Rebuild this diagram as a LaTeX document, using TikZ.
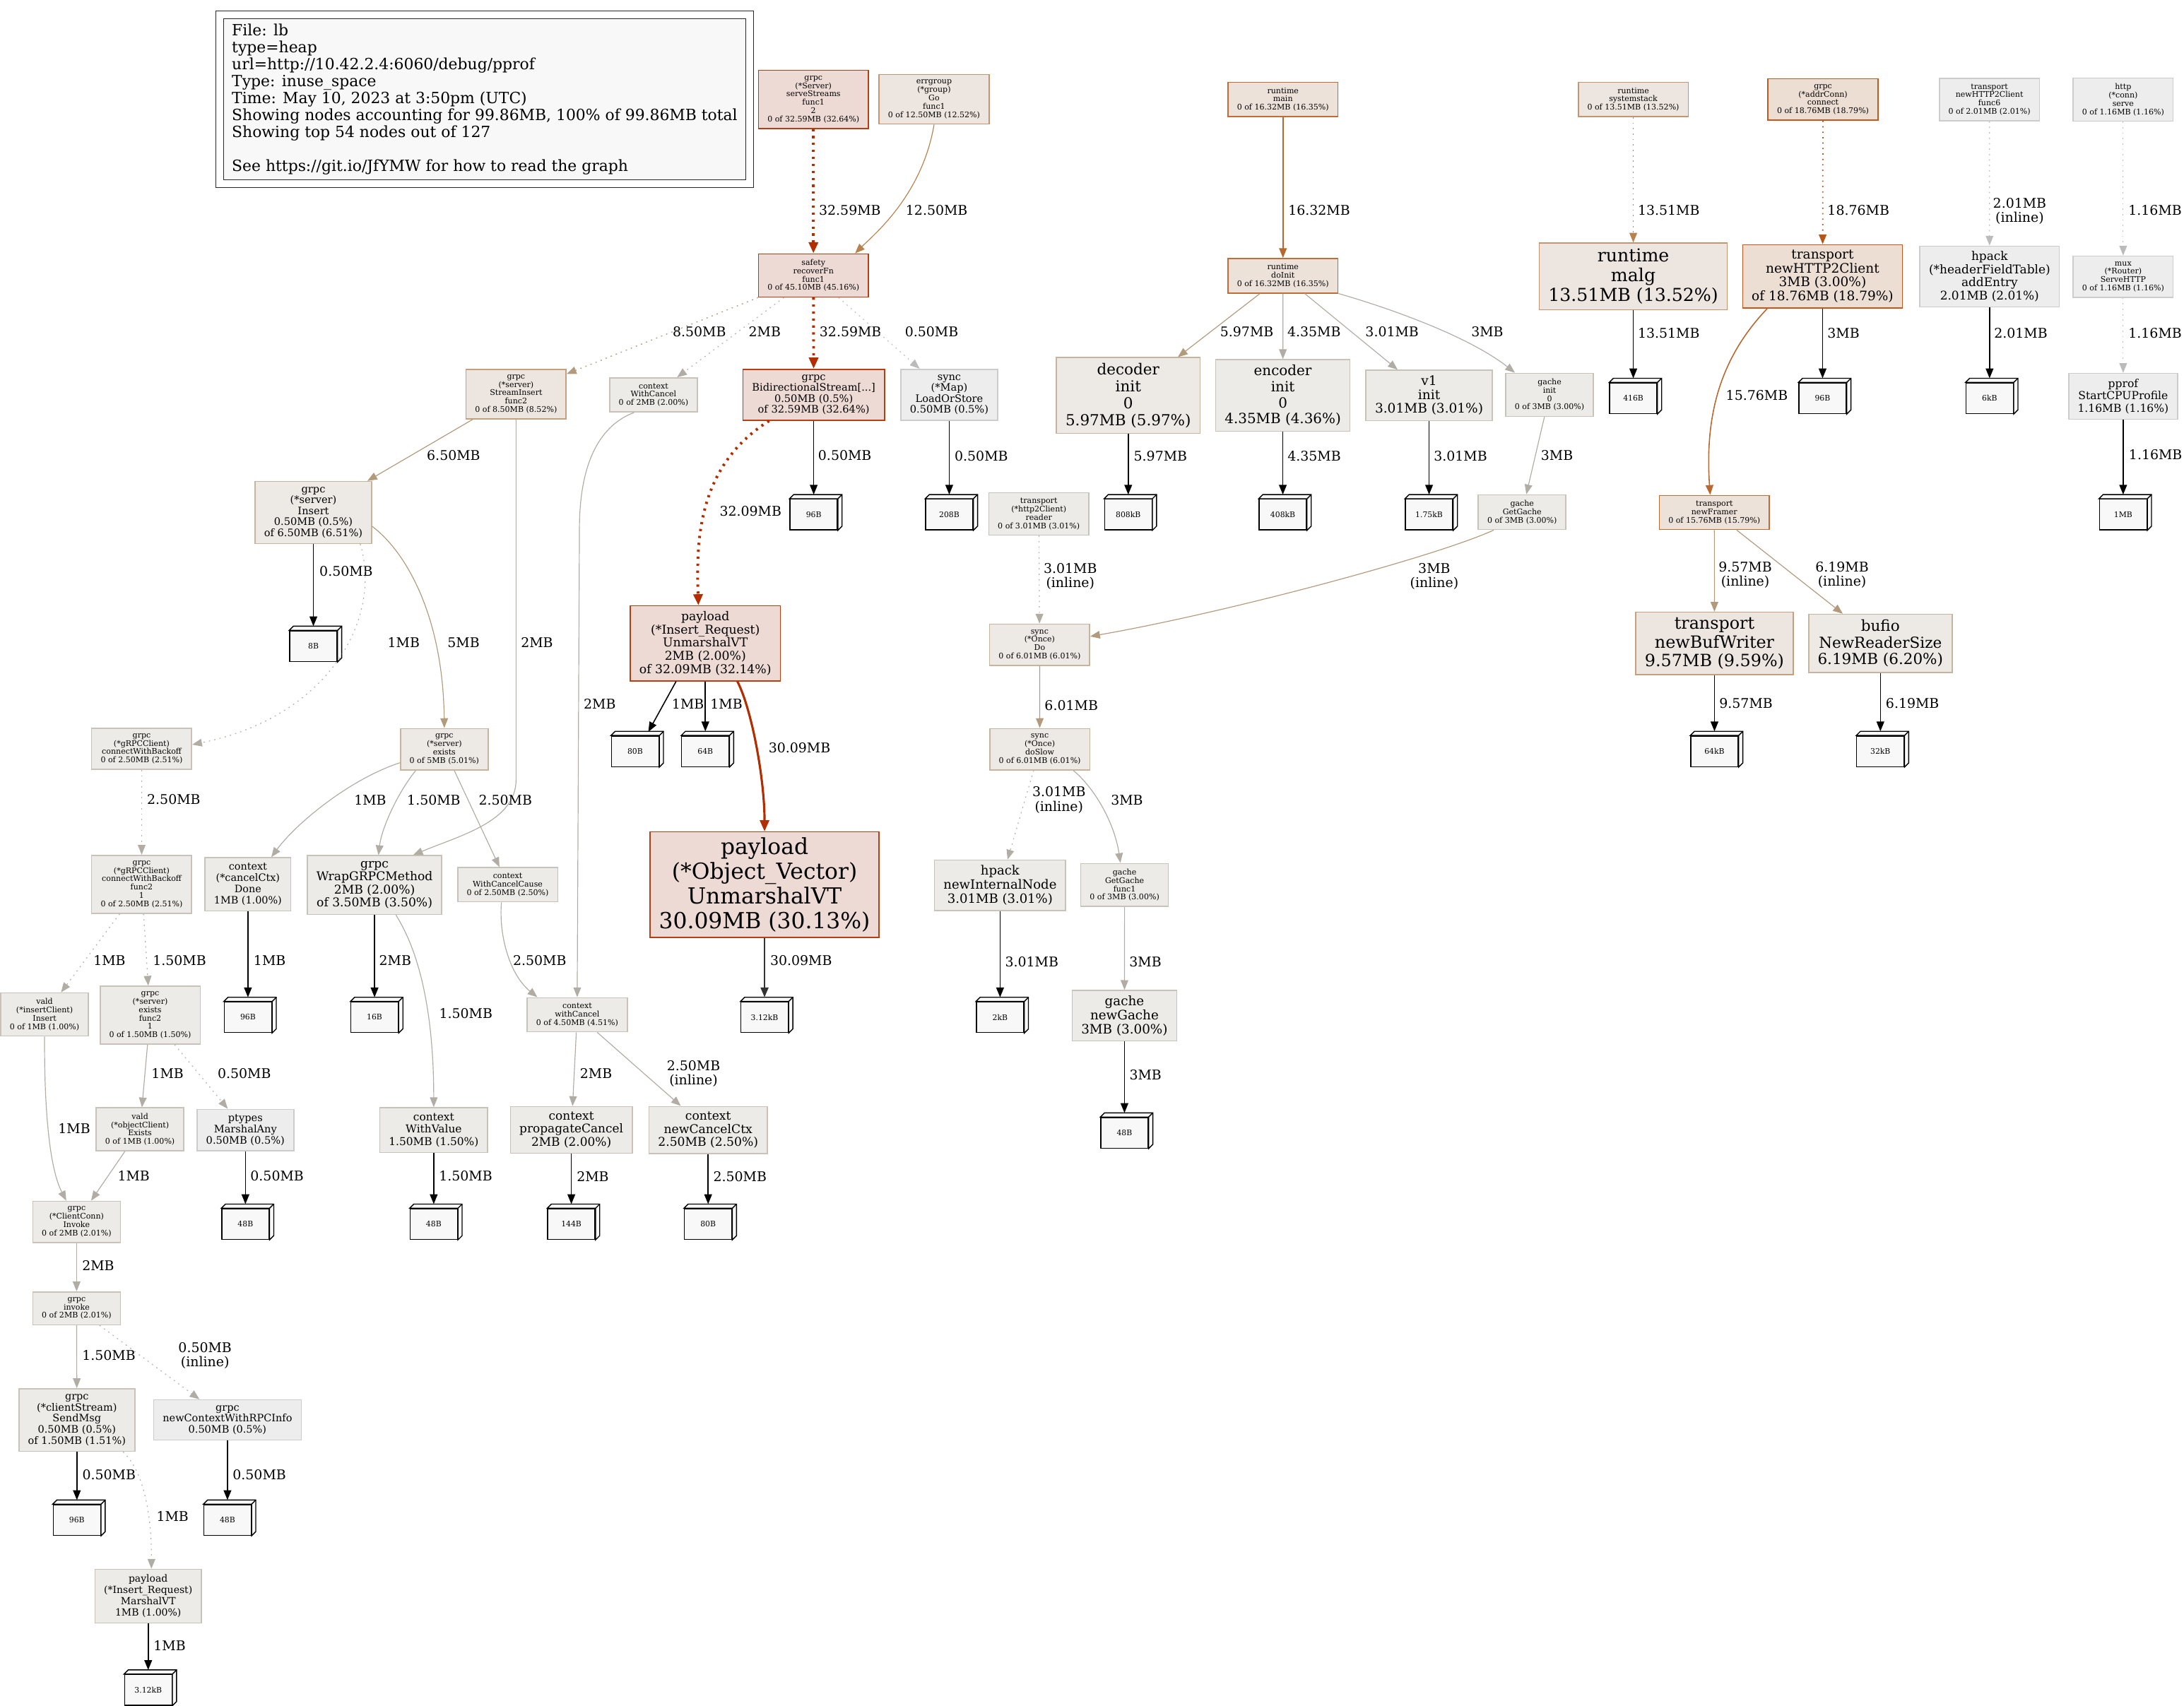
\documentclass[tikz,border=0pt]{standalone}
\usepackage{fontspec}
\setmainfont{DejaVu Serif}
\usetikzlibrary{arrows.meta}

\definecolor{hotline}{HTML}{B83E12}
\definecolor{hotfill}{HTML}{EDDAD4}
\definecolor{oraline}{HTML}{C2581E}
\definecolor{orafill}{HTML}{EDDED4}
\definecolor{orbline}{HTML}{C26C34}
\definecolor{orbfill}{HTML}{EDE2DA}
\definecolor{orcline}{HTML}{C6946E}
\definecolor{orcfill}{HTML}{EDE5DF}
\definecolor{tanline}{HTML}{C4A07C}
\definecolor{tanfill}{HTML}{EDE6E0}
\definecolor{tbnline}{HTML}{C6B49E}
\definecolor{tbnfill}{HTML}{EDE9E5}
\definecolor{greyline}{HTML}{C8C2B8}
\definecolor{greyfill}{HTML}{EDEBE8}
\definecolor{paleline}{HTML}{CCCCCC}
\definecolor{palefill}{HTML}{EDEDED}
\definecolor{cubefill}{HTML}{F8F8F8}
\definecolor{hotedge}{HTML}{B22E00}
\definecolor{oraedge}{HTML}{B8561A}
\definecolor{orbedge}{HTML}{B8682E}
\definecolor{orcedge}{HTML}{B8824E}
\definecolor{tanedge}{HTML}{B29A7C}
\definecolor{greyedge}{HTML}{B2ADA4}
\definecolor{paleedge}{HTML}{BBBBBB}

\begin{document}
\begin{tikzpicture}[x=1pt,y=-1pt,
  fnbox/.style={draw,align=center,line width=0.8pt,inner xsep=6.5pt,inner ysep=3.9pt},
  lowfont/.style={font=\fontsize{5.6}{6}\selectfont},
  sz/.style 2 args={font=\fontsize{#1}{#2}\selectfont},
  hotfn/.style={fnbox,draw=hotline,fill=hotfill},
  orafn/.style={fnbox,draw=oraline,fill=orafill},
  orbfn/.style={fnbox,draw=orbline,fill=orbfill},
  orcfn/.style={fnbox,draw=orcline,fill=orcfill},
  tanfn/.style={fnbox,draw=tanline,fill=tanfill},
  tbnfn/.style={fnbox,draw=tbnline,fill=tbnfill},
  greyfn/.style={fnbox,draw=greyline,fill=greyfill},
  palefn/.style={fnbox,draw=paleline,fill=palefill},
  legendbox/.style={draw=black!85,double=white,double distance=5pt,fill=cubefill,line width=0.6pt,
    align=left,inner xsep=8.75pt,inner ysep=4.2pt,minimum width=378.75pt,minimum height=121.4pt,
    font=\fontsize{11.1}{12.2}\selectfont},
  memcube/.style={draw=black,line width=0.7pt,fill=cubefill,minimum width=34pt,minimum height=22pt,
    inner sep=0pt,font=\fontsize{5.5}{6}\selectfont},
  cubeline/.style={draw=black,fill=cubefill,line width=0.7pt},
  edgebase/.style={-{Triangle[length=7pt,width=5.5pt]},line width=0.6pt},
  dotline/.style={dash pattern=on 0.9pt off 3pt},
  hotdots/.style={edgebase,hotedge,line width=2pt,dash pattern=on 1.6pt off 3.4pt,-{Triangle[length=8pt,width=6.5pt]}},
  hotsolid/.style={edgebase,hotedge,line width=1.6pt,-{Triangle[length=8pt,width=6.5pt]}},
  oradots/.style={edgebase,oraedge,line width=0.9pt,dotline},
  orbcall/.style={edgebase,orbedge,line width=0.8pt},
  orccall/.style={edgebase,orcedge},
  orcdots/.style={edgebase,orcedge,line width=0.8pt,dotline},
  tancall/.style={edgebase,tanedge},
  tandots/.style={edgebase,tanedge,line width=0.7pt,dotline},
  greycall/.style={edgebase,greyedge},
  greydots/.style={edgebase,greyedge,dotline},
  paledots/.style={edgebase,paleedge,dotline},
  memcall/.style={edgebase,black,line width=0.8pt,shorten >=3pt},
  bigmem/.style={edgebase,black!80,line width=1.3pt,shorten >=3pt},
  lbl/.style={font=\fontsize{9.6}{10.3}\selectfont,text=black,inner sep=0pt,anchor=west},
  lbltwo/.style={font=\fontsize{9.6}{10.3}\selectfont,text=black,inner sep=0pt,align=center}]
\useasboundingbox (0,0) rectangle (1568,1225);

\node[legendbox] (legend) at (348,71.25) {File: lb\\type=heap\\url=http://10.42.2.4:6060/debug/pprof\\Type: inuse\_space\\Time: May 10, 2023 at 3:50pm (UTC)\\Showing nodes accounting for 99.86MB, 100\% of 99.86MB total\\Showing top 54 nodes out of 127\\[12.2pt]See https://git.io/JfYMW for how to read the graph};

\node[hotfn,lowfont] (srvStreams) at (584,71.4) {grpc\\(*Server)\\serveStreams\\func1\\2\\0 of 32.59MB (32.64\%)};
\node[orcfn,lowfont] (errGo) at (670.6,71.3) {errgroup\\(*group)\\Go\\func1\\0 of 12.50MB (12.52\%)};
\node[orbfn,lowfont] (rtMain) at (921.1,71.4) {runtime\\main\\0 of 16.32MB (16.35\%)};
\node[orcfn,lowfont] (rtSys) at (1172.6,71.4) {runtime\\systemstack\\0 of 13.51MB (13.52\%)};
\node[orafn,lowfont] (addrConn) at (1308.8,71.5) {grpc\\(*addrConn)\\connect\\0 of 18.76MB (18.79\%)};
\node[palefn,lowfont] (h2Func6) at (1428.3,71.5) {transport\\newHTTP2Client\\func6\\0 of 2.01MB (2.01\%)};
\node[palefn,lowfont] (httpServe) at (1524.3,71.5) {http\\(*conn)\\serve\\0 of 1.16MB (1.16\%)};

\node[hotfn,lowfont] (recoverFn) at (584,197.8) {safety\\recoverFn\\func1\\0 of 45.10MB (45.16\%)};
\node[orbfn,lowfont] (doInit) at (921.1,198) {runtime\\doInit\\0 of 16.32MB (16.35\%)};
\node[orcfn,sz={12.8}{14.3}] (malg) at (1172.6,198.5) {runtime\\malg\\13.51MB (13.52\%)};
\node[orafn,sz={9.4}{9.95}] (newH2) at (1308.5,198.5) {transport\\newHTTP2Client\\3MB (3.00\%)\\of 18.76MB (18.79\%)};
\node[palefn,sz={8.6}{9.35}] (addEntry) at (1428.4,198.6) {hpack\\(*headerFieldTable)\\addEntry\\2.01MB (2.01\%)};
\node[palefn,lowfont] (muxServe) at (1524.3,198.7) {mux\\(*Router)\\ServeHTTP\\0 of 1.16MB (1.16\%)};

\node[tanfn,lowfont] (streamIns) at (370.5,283) {grpc\\(*server)\\StreamInsert\\func2\\0 of 8.50MB (8.52\%)};
\node[greyfn,lowfont] (ctxWC) at (469.2,283.6) {context\\WithCancel\\0 of 2MB (2.00\%)};
\node[hotfn,sz={7.4}{7.9}] (bidi) at (584.2,283.5) {grpc\\BidirectionalStream[...]\\0.50MB (0.5\%)\\of 32.59MB (32.64\%)};
\node[palefn,sz={7.4}{7.9}] (syncMap) at (681.5,283.5) {sync\\(*Map)\\LoadOrStore\\0.50MB (0.5\%)};
\node[tbnfn,sz={10.9}{12.2}] (decInit) at (810,284) {decoder\\init\\0\\5.97MB (5.97\%)};
\node[greyfn,sz={10.1}{11.5}] (encInit) at (921,284) {encoder\\init\\0\\4.35MB (4.36\%)};
\node[greyfn,sz={9.4}{10}] (v1Init) at (1026,284) {v1\\init\\3.01MB (3.01\%)};
\node[greyfn,lowfont] (gacheInit) at (1112.5,283.5) {gache\\init\\0\\0 of 3MB (3.00\%)};
\node[palefn,sz={7.9}{8.9}] (pprofCPU) at (1524.3,284.6) {pprof\\StartCPUProfile\\1.16MB (1.16\%)};

\node[tbnfn,sz={7.4}{7.9}] (grpcIns) at (225,368) {grpc\\(*server)\\Insert\\0.50MB (0.5\%)\\of 6.50MB (6.51\%)};
\node[greyfn,lowfont] (h2Reader) at (745.8,369) {transport\\(*http2Client)\\reader\\0 of 3.01MB (3.01\%)};
\node[greyfn,lowfont] (getGache) at (1092.8,367.8) {gache\\GetGache\\0 of 3MB (3.00\%)};
\node[orbfn,lowfont] (newFramer) at (1230.8,368) {transport\\newFramer\\0 of 15.76MB (15.79\%)};

\node[hotfn,sz={8.75}{9.5}] (insUnm) at (506.4,462) {payload\\(*Insert\_Request)\\UnmarshalVT\\2MB (2.00\%)\\of 32.09MB (32.14\%)};
\node[tbnfn,lowfont] (onceDo) at (746.4,463) {sync\\(*Once)\\Do\\0 of 6.01MB (6.01\%)};
\node[tanfn,sz={12.1}{13.4}] (bufWriter) at (1230.9,462) {transport\\newBufWriter\\9.57MB (9.59\%)};
\node[tbnfn,sz={10.9}{12}] (readerSize) at (1350,462) {bufio\\NewReaderSize\\6.19MB (6.20\%)};

\node[greyfn,lowfont] (connBackoff) at (101.7,537.7) {grpc\\(*gRPCClient)\\connectWithBackoff\\0 of 2.50MB (2.51\%)};
\node[tbnfn,lowfont] (srvExists) at (319,538) {grpc\\(*server)\\exists\\0 of 5MB (5.01\%)};
\node[tbnfn,lowfont] (doSlow) at (746.5,538) {sync\\(*Once)\\doSlow\\0 of 6.01MB (6.01\%)};

\node[greyfn,lowfont] (backoffF2) at (101.7,635) {grpc\\(*gRPCClient)\\connectWithBackoff\\func2\\1\\0 of 2.50MB (2.51\%)};
\node[greyfn,sz={7.3}{8.1}] (cancelDone) at (178,635) {context\\(*cancelCtx)\\Done\\1MB (1.00\%)};
\node[greyfn,sz={8.7}{9.45}] (wrapGRPC) at (268.9,635.5) {grpc\\WrapGRPCMethod\\2MB (2.00\%)\\of 3.50MB (3.50\%)};
\node[greyfn,lowfont] (wcCause) at (364.5,635.3) {context\\WithCancelCause\\0 of 2.50MB (2.50\%)};
\node[hotfn,sz={15.9}{17.8}] (objVec) at (548.9,635.3) {payload\\(*Object\_Vector)\\UnmarshalVT\\30.09MB (30.13\%)};
\node[greyfn,sz={9.15}{10}] (internalNode) at (718,635.7) {hpack\\newInternalNode\\3.01MB (3.01\%)};
\node[greyfn,lowfont] (gacheF1) at (807.4,635.5) {gache\\GetGache\\func1\\0 of 3MB (3.00\%)};

\node[greyfn,lowfont] (insClient) at (32,728.5) {vald\\(*insertClient)\\Insert\\0 of 1MB (1.00\%)};
\node[greyfn,lowfont] (existsF2) at (107.8,729) {grpc\\(*server)\\exists\\func2\\1\\0 of 1.50MB (1.50\%)};
\node[greyfn,lowfont] (withCancel) at (414.4,728.7) {context\\withCancel\\0 of 4.50MB (4.51\%)};
\node[greyfn,sz={9.3}{10}] (newGache) at (807.3,729.4) {gache\\newGache\\3MB (3.00\%)};

\node[greyfn,lowfont] (objClient) at (100.5,811) {vald\\(*objectClient)\\Exists\\0 of 1MB (1.00\%)};
\node[palefn,sz={7.4}{7.9}] (ptypes) at (176.2,811.5) {ptypes\\MarshalAny\\0.50MB (0.5\%)};
\node[greyfn,sz={7.8}{8.9}] (withValue) at (311.4,811.5) {context\\WithValue\\1.50MB (1.50\%)};
\node[greyfn,sz={8.6}{9.3}] (propCancel) at (410.2,811.4) {context\\propagateCancel\\2MB (2.00\%)};
\node[greyfn,sz={8.7}{9.3}] (newCancelCtx) at (508.4,811.4) {context\\newCancelCtx\\2.50MB (2.50\%)};

\node[greyfn,lowfont] (clientInvoke) at (55,877.4) {grpc\\(*ClientConn)\\Invoke\\0 of 2MB (2.01\%)};
\node[greyfn,lowfont] (grpcInvoke) at (55,939.5) {grpc\\invoke\\0 of 2MB (2.01\%)};
\node[greyfn,sz={7.35}{8.05}] (sendMsg) at (55.2,1019.7) {grpc\\(*clientStream)\\SendMsg\\0.50MB (0.5\%)\\of 1.50MB (1.51\%)};
\node[palefn,sz={7.35}{8.05}] (newCtxRPC) at (163.3,1019.7) {grpc\\newContextWithRPCInfo\\0.50MB (0.5\%)};
\node[greyfn,sz={7.1}{8.1}] (payMarshal) at (106.4,1146.2) {payload\\(*Insert\_Request)\\MarshalVT\\1MB (1.00\%)};

\node[memcube] (m416) at (1172.6,286) {416B};
\node[memcube] (m96a) at (1308.5,286) {96B};
\node[memcube] (m6k) at (1428.4,286) {6kB};
\node[memcube] (m96b) at (584.2,369.5) {96B};
\node[memcube] (m208) at (681.5,369.5) {208B};
\node[memcube] (m808) at (810,369.5) {808kB};
\node[memcube] (m408) at (921,369.5) {408kB};
\node[memcube] (m175) at (1026,369.5) {1.75kB};
\node[memcube] (m1mb) at (1524.3,369.5) {1MB};
\node[memcube] (m8) at (225,464) {8B};
\node[memcube] (m80a) at (456,539.5) {80B};
\node[memcube] (m64) at (506.4,539.5) {64B};
\node[memcube] (m64k) at (1230.9,539.5) {64kB};
\node[memcube] (m32k) at (1350,539.5) {32kB};
\node[memcube] (m96c) at (178,730.5) {96B};
\node[memcube] (m16) at (268.9,730.5) {16B};
\node[memcube] (m312a) at (548.9,730.5) {3.12kB};
\node[memcube] (m2k) at (718,730.5) {2kB};
\node[memcube] (m48c) at (807.3,813.5) {48B};
\node[memcube] (m48a) at (176.2,879) {48B};
\node[memcube] (m48b) at (311.4,879) {48B};
\node[memcube] (m144) at (410.2,879) {144B};
\node[memcube] (m80b) at (508.4,879) {80B};
\node[memcube] (m96d) at (55.2,1091.5) {96B};
\node[memcube] (m48d) at (163.3,1091.5) {48B};
\node[memcube] (m312b) at (106.4,1213.5) {3.12kB};

\foreach \m in {m416,m96a,m6k,m96b,m208,m808,m408,m175,m1mb,m8,m80a,m64,m64k,m32k,m96c,m16,m312a,m2k,m48c,m48a,m48b,m144,m80b,m96d,m48d,m312b}{
  \filldraw[cubeline] (\m.north west) -- ++(3pt,3pt) -| ([shift={(3pt,3pt)}]\m.south east) -- (\m.south east) -- (\m.north east) -- cycle;
  \draw[cubeline] (\m.north east) -- ++(3pt,3pt);
}

\draw[hotdots] (srvStreams) -- (recoverFn) node[lbl] at (587,151) {32.59MB};
\draw[orccall] (errGo.south) .. controls (662,140) and (628,168) .. ([xshift=-10pt]recoverFn.north east) node[lbl] at (650,151) {12.50MB};
\draw[orbcall] (rtMain) -- (doInit) node[lbl] at (924.5,151) {16.32MB};
\draw[orcdots] (rtSys) -- (malg) node[lbl] at (1175.5,151) {13.51MB};
\draw[oradots] (addrConn) -- (newH2) node[lbl] at (1311.6,151) {18.76MB};
\draw[paledots] (h2Func6) -- (addEntry) node[lbltwo] at (1450,151.6) {2.01MB\\(inline)};
\draw[paledots] (httpServe) -- (muxServe) node[lbl] at (1527.8,151) {1.16MB};

\draw[tandots] (recoverFn) -- (streamIns) node[lbl] at (482.6,238) {8.50MB};
\draw[greydots] (recoverFn) -- (ctxWC) node[lbl] at (537.2,238) {2MB};
\draw[hotdots] (recoverFn) -- (bidi) node[lbl] at (587.4,238) {32.59MB};
\draw[paledots] (recoverFn) -- (syncMap) node[lbl] at (649.4,238) {0.50MB};
\draw[tancall] (doInit) -- (decInit) node[lbl] at (875.7,238.3) {5.97MB};
\draw[greycall] (doInit) -- (encInit) node[lbl] at (924,238.3) {4.35MB};
\draw[greycall] (doInit) -- (v1Init) node[lbl] at (980,238.3) {3.01MB};
\draw[greycall] (doInit.south east) .. controls (1000,222) and (1055,242) .. ([xshift=7pt]gacheInit.north west) node[lbl] at (1056,238.3) {3MB};
\draw[memcall] (malg) -- (m416) node[lbl] at (1175.5,239.3) {13.51MB};
\draw[memcall] (newH2) -- (m96a) node[lbl] at (1311.6,239.3) {3MB};
\draw[orbcall] ([xshift=18pt]newH2.south west) .. controls (1234,258) and (1224,300) .. ([xshift=-3pt]newFramer.north) node[lbl,anchor=east] at (1283.9,284) {15.76MB};
\draw[memcall] (addEntry) -- (m6k) node[lbl] at (1431.3,239.3) {2.01MB};
\draw[paledots] (muxServe) -- (pprofCPU) node[lbl] at (1527.8,239.3) {1.16MB};
\draw[memcall] (pprofCPU) -- (m1mb) node[lbl] at (1528,326.7) {1.16MB};

\draw[tancall] (streamIns) -- (grpcIns) node[lbl] at (306.2,326.9) {6.50MB};
\draw[greycall] (streamIns.south) -- (370.5,560) .. controls (370.5,590) and (330,600) .. ([xshift=27.7pt]wrapGRPC.north) node[lbl] at (373.7,461.4) {2MB};
\draw[greycall] ([xshift=-14pt]ctxWC.south) .. controls (432,305) and (416,330) .. (416,380) -- (withCancel.north) node[lbl] at (418.8,505.3) {2MB};
\draw[memcall] (bidi) -- (m96b) node[lbl] at (587,326.9) {0.50MB};
\draw[hotdots] ([xshift=-32pt]bidi.south) .. controls (500,335) and (500,390) .. ([xshift=-5pt]insUnm.north) node[lbl] at (515.7,367) {32.09MB};
\draw[memcall] (syncMap) -- (m208) node[lbl] at (685,327.6) {0.50MB};
\draw[memcall] (decInit) -- (m808) node[lbl] at (813.6,327.6) {5.97MB};
\draw[memcall] (encInit) -- (m408) node[lbl] at (924,327.6) {4.35MB};
\draw[memcall] (v1Init) -- (m175) node[lbl] at (1029,327.6) {3.01MB};
\draw[greycall] (gacheInit) -- (getGache) node[lbl] at (1106,327.2) {3MB};

\draw[greydots] (h2Reader) -- (onceDo) node[lbltwo] at (768.4,414) {3.01MB\\(inline)};
\draw[tancall] ([xshift=-20.4pt]getGache.south) .. controls (1030,400) and (880,440) .. ([yshift=6pt]onceDo.east) node[lbltwo] at (1029.7,414) {3MB\\(inline)};
\draw[tancall] (newFramer) -- (bufWriter) node[lbltwo] at (1253,412.8) {9.57MB\\(inline)};
\draw[tancall] (newFramer) -- (readerSize) node[lbltwo] at (1322.5,412.8) {6.19MB\\(inline)};
\draw[memcall] (grpcIns) -- (m8) node[lbl] at (229,410) {0.50MB};
\draw[greydots] ([xshift=-8.6pt]grpcIns.south east) .. controls (275,445) and (235,515) .. ([yshift=3pt]connBackoff.east) node[lbl] at (278,461.4) {1MB};
\draw[tancall] ([yshift=-10pt]grpcIns.east) .. controls (290,395) and (318,440) .. (srvExists.north) node[lbl] at (321,461.4) {5MB};

\draw[memcall] ([xshift=-21pt]insUnm.south) -- ([xshift=8pt]m80a.north) node[lbl] at (482,505.3) {1MB};
\draw[memcall] (insUnm) -- (m64) node[lbl] at (509.6,505.3) {1MB};
\draw[hotsolid] ([xshift=23pt]insUnm.south) .. controls (540,510) and (548.9,560) .. (objVec.north) node[lbl] at (551,537) {30.09MB};
\draw[tancall] (onceDo) -- (doSlow) node[lbl] at (749.7,506.6) {6.01MB};
\draw[memcall] (bufWriter) -- (m64k) node[lbl] at (1234,505.1) {9.57MB};
\draw[memcall] (readerSize) -- (m32k) node[lbl] at (1353.5,505.1) {6.19MB};

\draw[greydots] (connBackoff) -- (backoffF2) node[lbl] at (105.3,574.2) {2.50MB};
\draw[greycall] ([yshift=-9.7pt]srvExists.west) .. controls (250,560) and (212,592) .. ([xshift=16.8pt]cancelDone.north) node[lbl] at (254,574.5) {1MB};
\draw[greycall] ([xshift=-20.5pt]srvExists.south) .. controls (285,570) and (274,595) .. ([xshift=2.8pt]wrapGRPC.north) node[lbl] at (292,574.5) {1.50MB};
\draw[greycall] (srvExists) -- (wcCause) node[lbl] at (343.4,574.5) {2.50MB};
\draw[greydots] (doSlow) -- (internalNode) node[lbltwo] at (760.3,574.5) {3.01MB\\(inline)};
\draw[greycall] ([xshift=24pt]doSlow.south) .. controls (785,565) and (800,590) .. ([xshift=-3pt]gacheF1.north) node[lbl] at (797.3,574.5) {3MB};

\draw[greydots] (backoffF2) -- (insClient) node[lbl] at (66.8,689.7) {1MB};
\draw[greydots] (backoffF2) -- (existsF2) node[lbl] at (109.4,689.7) {1.50MB};
\draw[memcall] (cancelDone) -- (m96c) node[lbl] at (181.7,689.7) {1MB};
\draw[memcall] (wrapGRPC) -- (m16) node[lbl] at (271.8,689.7) {2MB};
\draw[greycall] ([xshift=15.3pt]wrapGRPC.south) .. controls (305,690) and (311.4,740) .. (withValue.north) node[lbl] at (315,727.6) {1.50MB};
\draw[greycall] ([xshift=-4.5pt]wcCause.south) .. controls (358,672) and (366,700) .. ([xshift=-28.6pt]withCancel.north) node[lbl] at (368,689.8) {2.50MB};
\draw[bigmem] (objVec) -- (m312a) node[lbl] at (552.3,689.8) {30.09MB};
\draw[memcall] (internalNode) -- (m2k) node[lbl] at (721.2,690.5) {3.01MB};
\draw[greycall] (gacheF1) -- (newGache) node[lbl] at (810.5,690.5) {3MB};

\draw[greycall] (insClient.south) .. controls (31.7,800) and (36,840) .. ([xshift=-7.4pt]clientInvoke.north) node[lbl] at (41.5,810.4) {1MB};
\draw[greycall] (existsF2) -- (objClient) node[lbl] at (108.5,770.8) {1MB};
\draw[greydots] (existsF2) -- (ptypes) node[lbl] at (156,770.8) {0.50MB};
\draw[greycall] (withCancel) -- (propCancel) node[lbl] at (416.1,771) {2MB};
\draw[greycall] (withCancel) -- (newCancelCtx) node[lbltwo] at (497.9,771) {2.50MB\\(inline)};
\draw[memcall] (newGache) -- (m48c) node[lbl] at (810.5,772) {3MB};

\draw[greycall] (objClient) -- (clientInvoke) node[lbl] at (84.2,844.4) {1MB};
\draw[memcall] (ptypes) -- (m48a) node[lbl] at (179.4,844.4) {0.50MB};
\draw[memcall] (withValue) -- (m48b) node[lbl] at (314.8,844.4) {1.50MB};
\draw[memcall] (propCancel) -- (m144) node[lbl] at (413.7,845) {2MB};
\draw[memcall] (newCancelCtx) -- (m80b) node[lbl] at (511.7,845) {2.50MB};

\draw[greycall] (clientInvoke) -- (grpcInvoke) node[lbl] at (58.7,909) {2MB};
\draw[greycall] (grpcInvoke) -- (sendMsg) node[lbl] at (58.7,973.5) {1.50MB};
\draw[greydots] (grpcInvoke) -- (newCtxRPC) node[lbltwo] at (147.2,973.6) {0.50MB\\(inline)};
\draw[memcall] (sendMsg) -- (m96d) node[lbl] at (58.7,1059) {0.50MB};
\draw[greydots] ([xshift=33.2pt]sendMsg.south) .. controls (102,1055) and (109,1085) .. ([xshift=2.3pt]payMarshal.north) node[lbl] at (112.1,1088.7) {1MB};
\draw[memcall] (newCtxRPC) -- (m48d) node[lbl] at (166.7,1059) {0.50MB};
\draw[memcall] (payMarshal) -- (m312b) node[lbl] at (109.9,1181.8) {1MB};
\end{tikzpicture}
\end{document}
